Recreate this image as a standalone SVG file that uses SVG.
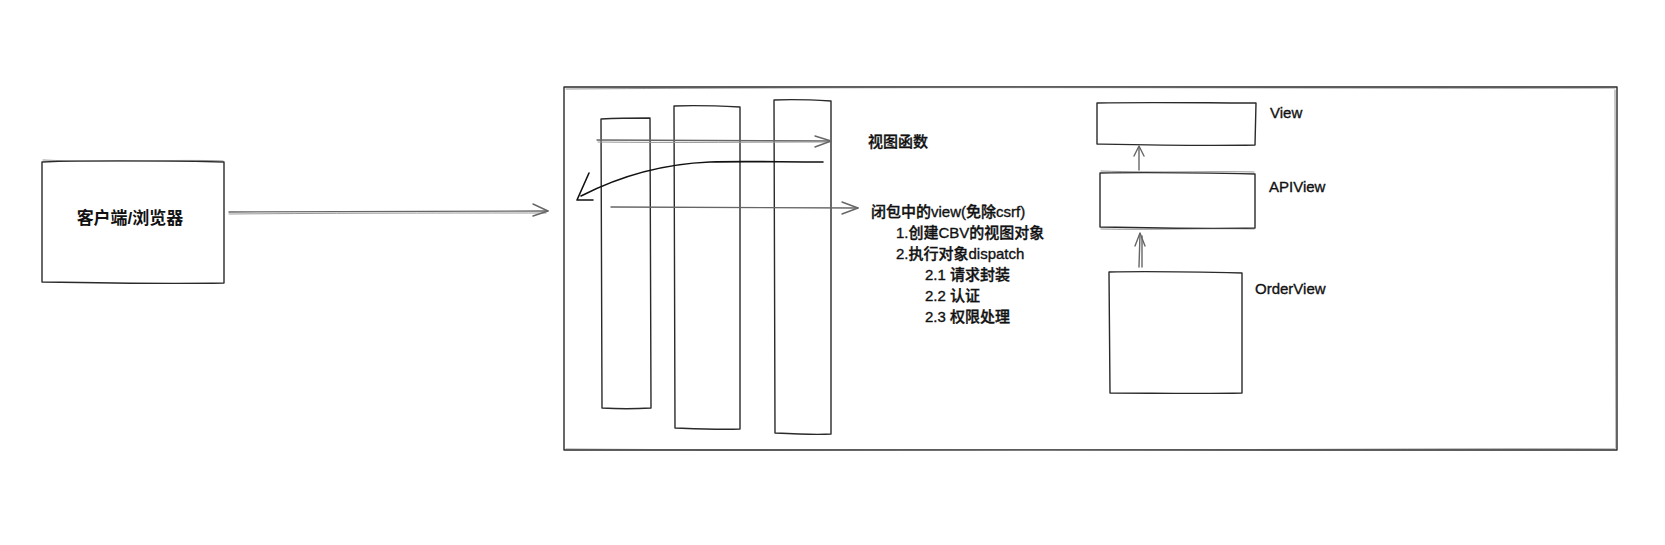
<svg xmlns="http://www.w3.org/2000/svg" width="1665" height="545" viewBox="0 0 1665 545">
<style>
  .box { fill: none; stroke: #2a2a2a; stroke-width: 1.4; stroke-linejoin: round; stroke-linecap: round; }
  .box2 { fill: none; stroke: #555; stroke-width: 0.9; stroke-linecap: round; opacity: 0.7; }
  .conn { fill: none; stroke: #666; stroke-width: 1.4; stroke-linecap: round; stroke-linejoin: round; }
  .conn2 { fill: none; stroke: #999; stroke-width: 1; stroke-linecap: round; }
  .dark { fill: none; stroke: #111; stroke-width: 1.6; stroke-linecap: round; stroke-linejoin: round; }
  text { font-family: "Liberation Sans", "Noto Sans CJK SC", sans-serif; fill: #111; }
  .t15 { font-size: 15px; font-weight: 500; stroke: #111; stroke-width: 0.35; }
  .t17 { font-size: 17px; font-weight: bold; }
</style>
<rect x="0" y="0" width="1665" height="545" fill="#ffffff"/>

<g id="client">
  <path class="box" d="M42,162 C100,160 170,161 224,162 L224,283 C160,284 100,283 42,282 Z"/>
  <path class="box2" d="M43,160 C110,163 180,159 223,161"/>
  <text class="t17" x="130" y="224" text-anchor="middle">客户端/浏览器</text>
</g>

<g id="server">
  <path class="box" d="M564,87 C900,86 1300,88 1617,87 L1617,450 C1300,451 900,449 564,450 Z"/>
  <path class="box2" d="M566,89 C1000,86 1400,89 1615,88 M1615,90 L1616,448 M566,449 C1000,452 1400,448 1615,449"/>
</g>

<g id="col1">
  <path class="box" d="M601,119 C620,118 635,118 650,118 L651,408 C635,409 618,409 602,408 Z"/>
</g>
<g id="col2">
  <path class="box" d="M674,106 C700,105 720,106 740,107 L740,429 C720,430 700,429 675,428 Z"/>
</g>
<g id="col3">
  <path class="box" d="M774,100 C795,99 815,100 831,101 L831,434 C815,435 795,434 775,433 Z"/>
</g>

<g id="label-viewfunc">
  <text class="t15" x="868" y="147">视图函数</text>
</g>

<g id="label-closure">
  <text class="t15" x="871" y="217">闭包中的view(免除csrf)</text>
  <text class="t15" x="896" y="238">1.创建CBV的视图对象</text>
  <text class="t15" x="896" y="259">2.执行对象dispatch</text>
  <text class="t15" x="925" y="280">2.1 请求封装</text>
  <text class="t15" x="925" y="301">2.2 认证</text>
  <text class="t15" x="925" y="322">2.3 权限处理</text>
</g>

<g id="view">
  <path class="box" d="M1097,103 C1150,102 1210,103 1256,103 L1255,145 C1200,146 1150,145 1097,144 Z"/>
  <text class="t15" x="1270" y="118">View</text>
</g>
<g id="apiview">
  <path class="box" d="M1100,173 C1150,172 1210,173 1255,174 L1255,228 C1200,229 1150,228 1100,227 Z"/>
  <path class="box2" d="M1101,171 C1160,173 1210,171 1254,172 M1101,229 C1160,230 1210,228 1254,229"/>
  <text class="t15" x="1269" y="192">APIView</text>
</g>
<g id="orderview">
  <path class="box" d="M1109,272 C1150,271 1200,272 1242,273 L1242,393 C1200,394 1150,393 1110,393 Z"/>
  <text class="t15" x="1255" y="294">OrderView</text>
</g>

<g id="connectors">
  <!-- client to server -->
  <path class="conn" d="M229,212 C350,211 450,212 548,211"/>
  <path class="conn2" d="M229,214 C350,213 450,213 546,213"/>
  <path class="conn" d="M533,204 L548,211 L533,216"/>
  <!-- arrow to 视图函数 -->
  <path class="conn" d="M597,140 C680,141 760,141 831,141"/>
  <path class="conn2" d="M598,142 C680,143 760,142 829,142"/>
  <path class="conn" d="M815,136 L831,141 L815,147"/>
  <!-- return arrow (curved) -->
  <path class="dark" d="M823,162 C780,162 740,161 710,162 C660,164 620,176 581,196"/>
  <path class="dark" d="M589,173 L577,200 L593,200"/>
  <!-- arrow to closure view -->
  <path class="conn" d="M611,207 C700,208 780,208 858,208"/>
  <path class="conn" d="M842,202 L858,208 L842,214"/>
  <!-- APIView to View -->
  <path class="conn" d="M1139,170 L1139,147"/>
  <path class="conn" d="M1134,156 L1139,146 L1144,156"/>
  <!-- OrderView to APIView -->
  <path class="conn" d="M1139,267 L1140,234"/>
  <path class="conn" d="M1142,267 L1142,236"/>
  <path class="conn" d="M1135,246 L1140,233 L1145,246"/>
</g>
</svg>
